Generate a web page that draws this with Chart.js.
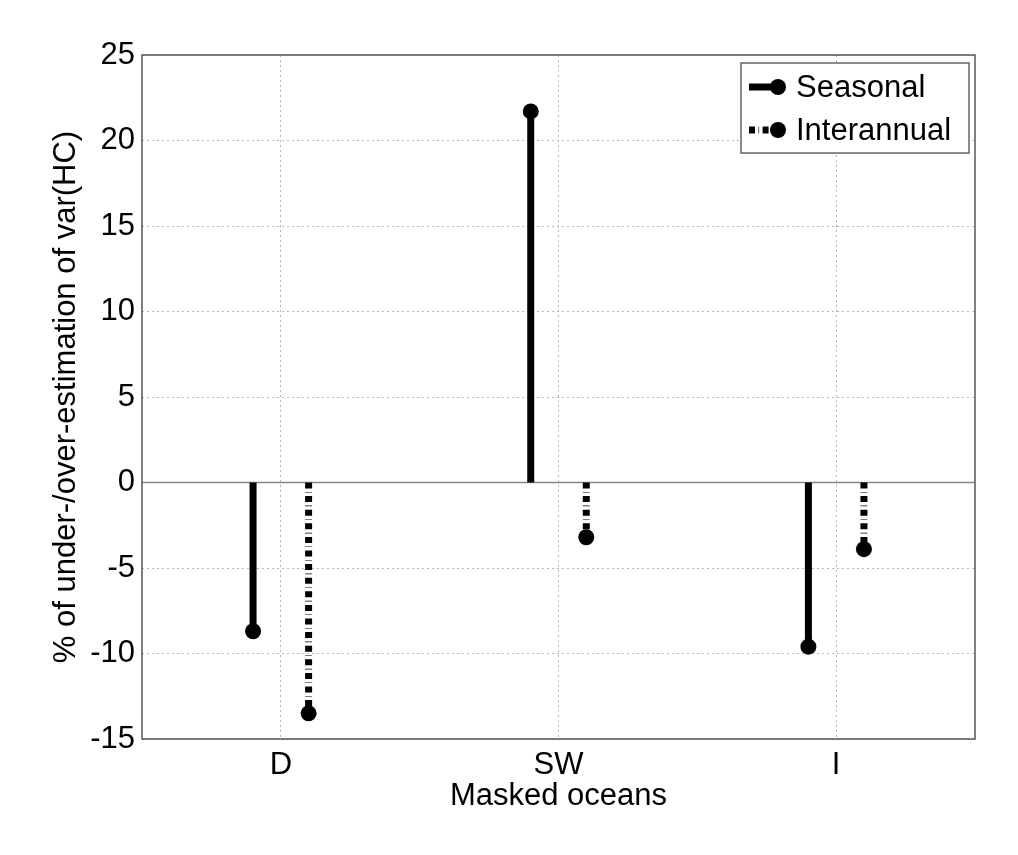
<!DOCTYPE html>
<html>
<head>
<meta charset="utf-8">
<script src="https://cdn.jsdelivr.net/npm/chart.js@4.4.0/dist/chart.umd.min.js"></script>
<style>
  html, body { margin: 0; padding: 0; background: #fff; }
  #wrap { width: 1018px; height: 855px; }
</style>
</head>
<body>
<div id="wrap"><canvas id="myChart" width="1018" height="855"></canvas></div>
<script>
const categorias = ["D", "SW", "I"];
const seasonal = [-8.7, 21.7, -9.6];
const interannual = [-13.5, -3.2, -3.9];
const yTicks = [-15, -10, -5, 0, 5, 10, 15, 20, 25];
const xTicks = [1, 2, 3];

const fuente = "'Liberation Sans', Arial, Helvetica, sans-serif";
const desplazamiento = 0.1;
const guion = [6, 3.5, 0.6, 3.5];

// cada tallo: punto en cero, punto en el valor, luego un hueco
function tallos(valores, shift) {
  const pts = [];
  valores.forEach((v, i) => {
    pts.push({ x: i + 1 + shift, y: 0, tip: false });
    pts.push({ x: i + 1 + shift, y: v, tip: true });
    pts.push({ x: i + 1 + shift, y: null, tip: false });
  });
  return pts;
}

const radioPunto = (ctx) => (ctx.raw && ctx.raw.tip ? 8 : 0);

const marcoYLeyenda = {
  id: "marcoYLeyenda",
  afterDraw(chart) {
    const { ctx, chartArea: a } = chart;
    ctx.save();
    // caja de los ejes
    ctx.strokeStyle = "#555";
    ctx.lineWidth = 1.5;
    ctx.strokeRect(a.left, a.top, a.right - a.left, a.bottom - a.top);

    // leyenda
    const lx = 741, ly = 63, lw = 228, lh = 90;
    ctx.fillStyle = "#fff";
    ctx.fillRect(lx, ly, lw, lh);
    ctx.strokeStyle = "#666";
    ctx.lineWidth = 1.5;
    ctx.strokeRect(lx, ly, lw, lh);

    const filas = [
      { label: "Seasonal", y: 87, dash: [] },
      { label: "Interannual", y: 130, dash: guion },
    ];
    filas.forEach((f) => {
      ctx.strokeStyle = "#000";
      ctx.lineWidth = 7;
      ctx.setLineDash(f.dash);
      ctx.beginPath();
      ctx.moveTo(749, f.y);
      ctx.lineTo(778, f.y);
      ctx.stroke();
      ctx.setLineDash([]);
      ctx.fillStyle = "#000";
      ctx.beginPath();
      ctx.arc(778, f.y, 8, 0, Math.PI * 2);
      ctx.fill();
      ctx.font = "31px " + fuente;
      ctx.textBaseline = "middle";
      ctx.textAlign = "left";
      ctx.fillText(f.label, 796, f.y + 1);
    });
    ctx.restore();
  },
};

const ctx = document.getElementById("myChart").getContext("2d");
const myChart = new Chart(ctx, {
  type: "scatter",
  data: {
    datasets: [
      {
        label: "base",
        data: [{ x: 0.5, y: 0 }, { x: 3.5, y: 0 }],
        showLine: true,
        borderColor: "#888",
        borderWidth: 1.5,
        pointRadius: 0,
        order: 3,
      },
      {
        label: "Seasonal",
        data: tallos(seasonal, -desplazamiento),
        showLine: true,
        spanGaps: false,
        borderColor: "#000",
        borderWidth: 7,
        borderCapStyle: "butt",
        pointRadius: radioPunto,
        pointBackgroundColor: "#000",
        pointBorderWidth: 0,
        order: 1,
      },
      {
        label: "Interannual",
        data: tallos(interannual, desplazamiento),
        showLine: true,
        spanGaps: false,
        borderColor: "#000",
        borderWidth: 7,
        borderDash: guion,
        borderCapStyle: "butt",
        pointRadius: radioPunto,
        pointBackgroundColor: "#000",
        pointBorderWidth: 0,
        order: 2,
      },
    ],
  },
  options: {
    responsive: false,
    animation: false,
    layout: { padding: { top: 55, right: 43, left: 0, bottom: 0 } },
    plugins: {
      legend: { display: false },
      tooltip: { enabled: false },
    },
    scales: {
      x: {
        type: "linear",
        min: 0.5,
        max: 3.5,
        afterBuildTicks: (scale) => {
          scale.ticks = xTicks.map((v) => ({ value: v }));
        },
        afterFit: (scale) => {
          scale.height = 116;
        },
        ticks: {
          callback: (v) => categorias[v - 1] || "",
          color: "#000",
          font: { family: fuente, size: 31 },
          padding: 8,
          maxRotation: 0,
        },
        grid: {
          color: "#b8b8b8",
          lineWidth: 1,
          drawTicks: false,
        },
        border: { display: false, dash: [2, 3] },
        title: {
          display: true,
          text: "Masked oceans",
          color: "#000",
          font: { family: fuente, size: 31 },
          padding: { top: 0, bottom: 40 },
        },
      },
      y: {
        min: -15,
        max: 25,
        afterBuildTicks: (scale) => {
          scale.ticks = yTicks.map((v) => ({ value: v }));
        },
        afterFit: (scale) => {
          scale.width = 142;
        },
        ticks: {
          color: "#000",
          font: { family: fuente, size: 31 },
          padding: 7,
        },
        grid: {
          color: "#b8b8b8",
          lineWidth: 1,
          drawTicks: false,
        },
        border: { display: false, dash: [2, 3] },
        title: {
          display: true,
          text: "% of under-/over-estimation of var(HC)",
          color: "#000",
          font: { family: fuente, size: 31 },
          padding: { top: 48, bottom: 0 },
        },
      },
    },
  },
  plugins: [marcoYLeyenda],
});
</script>
</body>
</html>
